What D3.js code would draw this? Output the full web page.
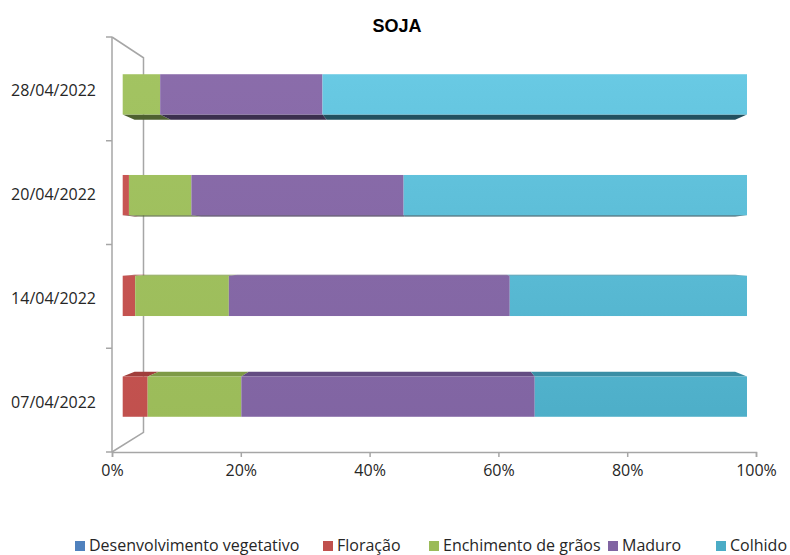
<!DOCTYPE html>
<html>
<head>
<meta charset="utf-8">
<script src="https://cdn.jsdelivr.net/npm/d3@7"></script>
<style>
  body { margin: 0; background: #fff; }
  text { font-family: "Open Sans", sans-serif; fill: #262626; }
</style>
</head>
<body>
<script>
// chart data (percent of area per stage)
var categories = ["07/04/2022", "14/04/2022", "20/04/2022", "28/04/2022"];
var seriesNames = ["Desenvolvimento vegetativo", "Floração", "Enchimento de grãos", "Maduro", "Colhido"];
var desenvolvimento = [0, 0, 0, 0];
var floracao = [4, 2, 1, 0];
var enchimento = [15, 15, 10, 6];
var maduro = [47, 45, 34, 26];
var colhido = [34, 38, 55, 68];
var xTicks = [0, 20, 40, 60, 80, 100];

var w = 790, h = 555;

// colours: legend / base, lighter top, depth face
var baseColor = ["#4F81BD", "#C0504D", "#9BBB59", "#8064A2", "#4BACC6"];
var lightColor = ["#6A96CC", "#CC5957", "#A3C462", "#8B6DAB", "#6BCCE6"];
var topFace = ["#3C6391", "#A03E3B", "#7E9A46", "#634C82", "#3A8EA5"];
var bottomFace = ["#28415F", "#5E2523", "#4E6130", "#3B2F4E", "#22505E"];

var svg = d3.select("body").append("svg")
    .attr("width", w)
    .attr("height", h);

// perspective helper: vanishing point and depth ratio
var vp = [435, 250];
function project(x, y, k) {
  return [vp[0] + k * (x - vp[0]), vp[1] + k * (y - vp[1])];
}

// axis scales (front plane)
var xAxisScale = d3.scaleLinear().domain([0, 100]).range([112, 756]);
var yAxisScale = d3.scaleBand().domain(categories.slice().reverse()).range([37, 452]);

// bar face scales (bars sit a bit behind the front plane)
var xBar = d3.scaleLinear().domain([0, 100]).range([122.7, 747]);
var yBar = d3.scaleBand().domain(categories.slice().reverse()).range([44, 447])
    .paddingInner(0.6).paddingOuter(0.3);

// gradients per series
var defs = svg.append("defs");
baseColor.forEach(function(c, i) {
  var g = defs.append("linearGradient")
      .attr("id", "grad" + i)
      .attr("gradientUnits", "userSpaceOnUse")
      .attr("x1", 0).attr("y1", 44).attr("x2", 0).attr("y2", 447);
  g.append("stop").attr("offset", "0%").attr("stop-color", lightColor[i]);
  g.append("stop").attr("offset", "100%").attr("stop-color", c);
});

// title
svg.append("text")
    .attr("x", 397)
    .attr("y", 32)
    .attr("text-anchor", "middle")
    .style("font-family", "'Liberation Sans', Arial, sans-serif")
    .style("font-weight", "bold")
    .style("font-size", "18px")
    .style("fill", "#000")
    .text("SOJA");

// side wall (left) in 3D
var wallK = 0.9025;
var wTop = project(112, 37, wallK), wBot = project(112, 452, wallK);
svg.append("path")
    .attr("d", "M112,37L" + wTop + "L" + wBot + "L112,452")
    .attr("fill", "none")
    .attr("stroke", "#a6a6a6")
    .attr("stroke-width", 1.5);

// y axis line + boundary ticks
svg.append("line")
    .attr("x1", 112).attr("x2", 112).attr("y1", 37).attr("y2", 452)
    .attr("stroke", "#a6a6a6").attr("stroke-width", 1.5);
var bounds = yAxisScale.domain().map(function(d) { return yAxisScale(d); }).concat([452]);
svg.selectAll(".ytick")
  .data(bounds)
  .enter().append("line")
    .attr("class", "ytick")
    .attr("x1", 106).attr("x2", 112)
    .attr("y1", function(d) { return d; })
    .attr("y2", function(d) { return d; })
    .attr("stroke", "#a6a6a6").attr("stroke-width", 1.5);

// y labels
svg.selectAll(".ylab")
  .data(categories)
  .enter().append("text")
    .attr("class", "ylab")
    .attr("x", 96)
    .attr("y", function(d) { return yAxisScale(d) + yAxisScale.bandwidth() / 2 + 7.5; })
    .attr("text-anchor", "end")
    .style("font-size", "16px")
    .text(function(d) { return d; });

// x axis
var xg = svg.append("g")
    .attr("transform", "translate(0,452)")
    .call(d3.axisBottom(xAxisScale)
      .tickValues(xTicks)
      .tickSize(5)
      .tickFormat(function(d) { return d + "%"; }));
xg.select(".domain").attr("stroke", "#a6a6a6").attr("stroke-width", 1.5);
xg.selectAll(".tick line").attr("stroke", "#a6a6a6").attr("stroke-width", 1.5);
xg.selectAll(".tick text")
    .attr("y", 13)
    .style("font-size", "16px")
    .style("font-family", "'Open Sans', sans-serif")
    .style("fill", "#262626");

// stacked data
var valueSeries = [desenvolvimento, floracao, enchimento, maduro, colhido];
var segments = [];
categories.forEach(function(cat, ci) {
  var acc = 0;
  valueSeries.forEach(function(vals, si) {
    var v = vals[ci];
    if (v > 0) {
      segments.push({cat: cat, s: si, x0: acc, x1: acc + v});
    }
    acc += v;
  });
});

var depthK = 0.962;
var bars = svg.append("g");

// depth faces (top face below eye level, bottom face above)
segments.forEach(function(d) {
  var xa = xBar(d.x0), xb = xBar(d.x1);
  var yt = yBar(d.cat), yb = yt + yBar.bandwidth();
  var edge, col;
  if (yt > vp[1]) { edge = yt; col = topFace[d.s]; }
  else if (yb < vp[1]) { edge = yb; col = bottomFace[d.s]; }
  else return;
  var pa = project(xa, edge, depthK), pb = project(xb, edge, depthK);
  bars.append("path")
      .attr("d", "M" + xa + "," + edge + "L" + xb + "," + edge + "L" + pb + "L" + pa + "Z")
      .attr("fill", col);
});

// front faces
bars.selectAll(".front")
  .data(segments)
  .enter().append("rect")
    .attr("class", "front")
    .attr("x", function(d) { return xBar(d.x0); })
    .attr("y", function(d) { return yBar(d.cat); })
    .attr("width", function(d) { return xBar(d.x1) - xBar(d.x0); })
    .attr("height", yBar.bandwidth())
    .attr("fill", function(d) { return "url(#grad" + d.s + ")"; });

// legend
var legendX = [75, 323, 429, 608, 716];
var lg = svg.selectAll(".leg")
  .data(seriesNames)
  .enter().append("g")
    .attr("class", "leg")
    .attr("transform", function(d, i) { return "translate(" + legendX[i] + ",541)"; });
lg.append("rect")
    .attr("width", 10).attr("height", 10)
    .attr("fill", function(d, i) { return baseColor[i]; });
lg.append("text")
    .attr("x", 14)
    .attr("y", 9.5)
    .style("font-size", "16px")
    .text(function(d) { return d; });
</script>
</body>
</html>
